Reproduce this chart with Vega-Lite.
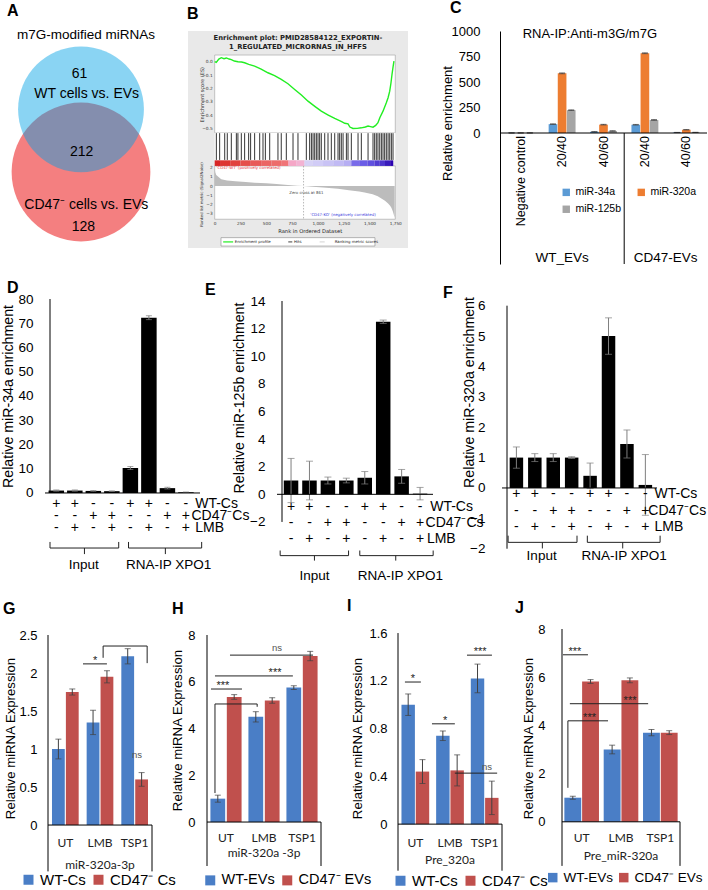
{
"$schema":"https://vega.github.io/schema/vega-lite/v6.json",
"background":"white",
"padding":{"left":0,"top":0,"right":0,"bottom":0},
"spacing":15,
"resolve":{"scale":{"color":"independent","xOffset":"independent"},"legend":{"color":"independent"}},
"config":{
 "font":"Liberation Sans",
 "view":{"stroke":null,"fill":"transparent"},
 "axis":{"grid":false,"labelColor":"#000","titleColor":"#000","domainColor":"#000","tickColor":"#000","titleFontWeight":"normal","labelFont":"Liberation Sans","titleFont":"Liberation Sans"},
 "title":{"anchor":"start","frame":"group","fontSize":16,"fontWeight":"bold","font":"Liberation Sans","baseline":"alphabetic","color":"#000"},
 "text":{"font":"Liberation Sans","color":"#000"}
},
"vconcat":[
{"hconcat":[
 {"width":165,"height":225,"title":{"text":"A","offset":9,"dx":7},
  "layer":[
   {"data":{"values":[{"set":"CD47⁻ cells vs. EVs"}]},"mark":{"type":"point","filled":true,"shape":"circle","size":19260,"color":"#F47F80","opacity":1},"encoding":{"x":{"datum":81,"type":"quantitative","scale":{"domain":[0,165],"nice":false,"zero":false},"axis":null},"y":{"datum":141,"type":"quantitative","scale":{"domain":[0,225],"reverse":true,"nice":false,"zero":false},"axis":null}}},
   {"data":{"values":[{"set":"WT cells vs. EVs"}]},"mark":{"type":"point","filled":true,"shape":"circle","size":15837,"color":"#00A1E5","opacity":0.46},"encoding":{"x":{"datum":81,"type":"quantitative","scale":{"domain":[0,165],"nice":false,"zero":false},"axis":null},"y":{"datum":78.3,"type":"quantitative","scale":{"domain":[0,225],"reverse":true,"nice":false,"zero":false},"axis":null}}},
   {"data":{"values":[{"t":"m7G-modified miRNAs"}]},"mark":{"type":"text","fontSize":13.5},"encoding":{"x":{"datum":86,"type":"quantitative","scale":{"domain":[0,165],"nice":false,"zero":false},"axis":null},"y":{"datum":4,"type":"quantitative","scale":{"domain":[0,225],"reverse":true,"nice":false,"zero":false},"axis":null},"text":{"field":"t"}}},
   {"data":{"values":[{"n":61}]},"mark":{"type":"text","fontSize":14},"encoding":{"x":{"datum":79.5,"type":"quantitative","scale":{"domain":[0,165],"nice":false,"zero":false},"axis":null},"y":{"datum":43.3,"type":"quantitative","scale":{"domain":[0,225],"reverse":true,"nice":false,"zero":false},"axis":null},"text":{"field":"n"}}},
   {"data":{"values":[{"t":"WT cells vs. EVs"}]},"mark":{"type":"text","fontSize":14},"encoding":{"x":{"datum":86.7,"type":"quantitative","scale":{"domain":[0,165],"nice":false,"zero":false},"axis":null},"y":{"datum":63.3,"type":"quantitative","scale":{"domain":[0,225],"reverse":true,"nice":false,"zero":false},"axis":null},"text":{"field":"t"}}},
   {"data":{"values":[{"n":212}]},"mark":{"type":"text","fontSize":14},"encoding":{"x":{"datum":81.7,"type":"quantitative","scale":{"domain":[0,165],"nice":false,"zero":false},"axis":null},"y":{"datum":120.7,"type":"quantitative","scale":{"domain":[0,225],"reverse":true,"nice":false,"zero":false},"axis":null},"text":{"field":"n"}}},
   {"data":{"values":[{"t":"CD47⁻ cells vs. EVs"}]},"mark":{"type":"text","fontSize":14},"encoding":{"x":{"datum":86.3,"type":"quantitative","scale":{"domain":[0,165],"nice":false,"zero":false},"axis":null},"y":{"datum":174.3,"type":"quantitative","scale":{"domain":[0,225],"reverse":true,"nice":false,"zero":false},"axis":null},"text":{"field":"t"}}},
   {"data":{"values":[{"n":128}]},"mark":{"type":"text","fontSize":14},"encoding":{"x":{"datum":83.3,"type":"quantitative","scale":{"domain":[0,165],"nice":false,"zero":false},"axis":null},"y":{"datum":196,"type":"quantitative","scale":{"domain":[0,225],"reverse":true,"nice":false,"zero":false},"axis":null},"text":{"field":"n"}}}
  ]},
 {"width":23,"height":1,"data":{"values":[{}]},"mark":{"type":"point","opacity":0},"encoding":{}},
 {"width":220,"height":217,"view":{"fill":"#e9e9e9"},"title":{"text":"B","offset":9,"dx":-1},
  "resolve":{"scale":{"y":"independent"},"axis":{"x":"independent","y":"independent"}},
  "layer":[
   {"resolve":{"axis":{"x":"independent","y":"independent"}},
    "layer":[
    {"data":{"values":[{}]},"mark":{"type":"rect","fill":"white","stroke":"#a0a0a0","strokeWidth":0.6},"encoding":{
      "x":{"datum":0,"type":"quantitative","scale":{"domain":[-258.7,1873.1],"nice":false,"zero":false},"axis":{"orient":"bottom","offset":-28.7,"values":[0,250,500,750,1000,1250,1500,1750],"format":",d","domain":false,"ticks":false,"labelPadding":2,"labelFontSize":4.2,"labelFont":"DejaVu Sans","labelColor":"#333","labelFlush":false,"title":"Rank in Ordered Dataset","titleFont":"DejaVu Sans","titleFontSize":5.2,"titleColor":"#222","titleX":121.7,"titleY":11,"titleBaseline":"middle"}},
      "x2":{"datum":1750},
      "y":{"datum":0.05,"type":"quantitative","scale":{"domain":[-1.3976,0.2303],"nice":false,"zero":false},"axis":{"orient":"left","offset":-26.7,"values":[0,-0.1,-0.2,-0.3,-0.4,-0.5],"format":".1f","domain":false,"ticks":false,"labelPadding":2.5,"labelFontSize":4.3,"labelFont":"DejaVu Sans","labelColor":"#333","title":"Enrichment score (ES)","titleFont":"DejaVu Sans","titleFontSize":5,"titleColor":"#333","titleX":-13.4,"titleY":63.3,"titleBaseline":"middle"}},
      "y2":{"datum":-0.533}}},
    {"data":{"values":[{}]},"mark":{"type":"rect","fill":"white"},"encoding":{"x":{"datum":0,"type":"quantitative","scale":{"domain":[-258.7,1873.1],"nice":false,"zero":false},"axis":null},"x2":{"datum":1750},"y":{"datum":-0.533,"type":"quantitative","scale":{"domain":[-1.3976,0.2303],"nice":false,"zero":false},"axis":null},"y2":{"datum":-0.74}}},
    {"data":{"values":[{}]},"mark":{"type":"rect","fill":"white","stroke":"#a0a0a0","strokeWidth":0.6},"encoding":{"x":{"datum":0,"type":"quantitative","scale":{"domain":[-258.7,1873.1],"nice":false,"zero":false},"axis":null},"x2":{"datum":1750},"y":{"datum":-0.782,"type":"quantitative","scale":{"domain":[-1.3976,0.2303],"nice":false,"zero":false},"axis":null},"y2":{"datum":-1.182}}},
    {"data":{"values":[{"start":0,"end":60,"score":1.0},{"start":60,"end":150,"score":0.95},{"start":150,"end":250,"score":0.9},{"start":250,"end":350,"score":0.85},{"start":350,"end":450,"score":0.8},{"start":450,"end":550,"score":0.75},{"start":550,"end":650,"score":0.72},{"start":650,"end":715,"score":0.68},{"start":715,"end":790,"score":0.45},{"start":790,"end":870,"score":0.4},{"start":870,"end":950,"score":-0.1},{"start":950,"end":1050,"score":-0.12},{"start":1050,"end":1150,"score":-0.15},{"start":1150,"end":1250,"score":-0.18},{"start":1250,"end":1324,"score":-0.22},{"start":1324,"end":1400,"score":-0.45},{"start":1400,"end":1480,"score":-0.5},{"start":1480,"end":1550,"score":-0.58},{"start":1550,"end":1600,"score":-0.7},{"start":1600,"end":1650,"score":-0.75},{"start":1650,"end":1700,"score":-0.9},{"start":1700,"end":1730,"score":-1.0}]},
     "mark":{"type":"rect"},"encoding":{"x":{"field":"start","type":"quantitative","scale":{"domain":[-258.7,1873.1],"nice":false,"zero":false},"axis":null},"x2":{"field":"end"},"y":{"datum":-0.74,"type":"quantitative","scale":{"domain":[-1.3976,0.2303],"nice":false,"zero":false},"axis":null},"y2":{"datum":-0.782},"color":{"field":"score","type":"quantitative","scale":{"domain":[-1,-0.5,-0.1,0.4,0.7,1],"range":["#2a00b0","#6a5ce6","#d6d2f6","#f3b3d3","#ee7070","#d82424"]},"legend":null}}},
    {"data":{"values":[{"rank":16},{"rank":48},{"rank":97},{"rank":122},{"rank":161},{"rank":210},{"rank":225},{"rank":258},{"rank":290},{"rank":329},{"rank":348},{"rank":387},{"rank":436},{"rank":468},{"rank":491},{"rank":533},{"rank":613},{"rank":645},{"rank":694},{"rank":759},{"rank":807},{"rank":888},{"rank":920},{"rank":937},{"rank":953},{"rank":969},{"rank":985},{"rank":1001},{"rank":1017},{"rank":1033},{"rank":1066},{"rank":1098},{"rank":1130},{"rank":1163},{"rank":1195},{"rank":1211},{"rank":1227},{"rank":1244},{"rank":1276},{"rank":1292},{"rank":1324},{"rank":1389},{"rank":1421},{"rank":1486},{"rank":1534},{"rank":1550},{"rank":1566},{"rank":1582},{"rank":1599},{"rank":1615},{"rank":1631},{"rank":1647},{"rank":1663},{"rank":1680},{"rank":1696},{"rank":1712},{"rank":1728}]},
     "mark":{"type":"rule","color":"#111","strokeWidth":1,"opacity":0.85},"encoding":{"x":{"field":"rank","type":"quantitative","scale":{"domain":[-258.7,1873.1],"nice":false,"zero":false},"axis":null},"y":{"datum":-0.536,"type":"quantitative","scale":{"domain":[-1.3976,0.2303],"nice":false,"zero":false},"axis":null},"y2":{"datum":-0.737}}},
    {"data":{"values":[{"rank":0,"es":0},{"rank":15,"es":-0.005},{"rank":40,"es":0.02},{"rank":64,"es":0.03},{"rank":90,"es":0.022},{"rank":113,"es":0.028},{"rank":140,"es":0.02},{"rank":161,"es":0.015},{"rank":190,"es":0.005},{"rank":226,"es":0.0},{"rank":260,"es":-0.002},{"rank":290,"es":-0.008},{"rank":330,"es":-0.02},{"rank":387,"es":-0.033},{"rank":450,"es":-0.055},{"rank":516,"es":-0.083},{"rank":580,"es":-0.105},{"rank":645,"es":-0.133},{"rank":710,"es":-0.165},{"rank":775,"es":-0.208},{"rank":840,"es":-0.25},{"rank":904,"es":-0.296},{"rank":970,"es":-0.335},{"rank":1033,"es":-0.371},{"rank":1100,"es":-0.4},{"rank":1163,"es":-0.426},{"rank":1230,"es":-0.45},{"rank":1260,"es":-0.462},{"rank":1292,"es":-0.466},{"rank":1310,"es":-0.49},{"rank":1340,"es":-0.501},{"rank":1380,"es":-0.5},{"rank":1421,"es":-0.496},{"rank":1460,"es":-0.49},{"rank":1486,"es":-0.483},{"rank":1510,"es":-0.487},{"rank":1534,"es":-0.491},{"rank":1560,"es":-0.478},{"rank":1582,"es":-0.458},{"rank":1600,"es":-0.42},{"rank":1631,"es":-0.371},{"rank":1663,"es":-0.308},{"rank":1680,"es":-0.27},{"rank":1696,"es":-0.221},{"rank":1708,"es":-0.16},{"rank":1718,"es":-0.096},{"rank":1728,"es":-0.04},{"rank":1737,"es":0.004}]},
     "mark":{"type":"line","color":"#22ee22","strokeWidth":1.4},"encoding":{"x":{"field":"rank","type":"quantitative","scale":{"domain":[-258.7,1873.1],"nice":false,"zero":false},"axis":null},"y":{"field":"es","type":"quantitative","scale":{"domain":[-1.3976,0.2303],"nice":false,"zero":false},"axis":null}}},
    {"data":{"values":[{"rank":861}]},"mark":{"type":"rule","color":"#888","strokeDash":[1.5,1.5],"strokeWidth":0.6},"encoding":{"x":{"field":"rank","type":"quantitative","scale":{"domain":[-258.7,1873.1],"nice":false,"zero":false},"axis":null},"y":{"datum":-0.782,"type":"quantitative","scale":{"domain":[-1.3976,0.2303],"nice":false,"zero":false},"axis":null},"y2":{"datum":-1.182}}},
    {"data":{"values":[{"t":"Enrichment plot: PMID28584122_EXPORTIN-"}]},"mark":{"type":"text","font":"DejaVu Sans","fontSize":6.8,"fontWeight":"bold","color":"#222"},"encoding":{"x":{"datum":807,"type":"quantitative","scale":{"domain":[-258.7,1873.1],"nice":false,"zero":false},"axis":null},"y":{"datum":0.18,"type":"quantitative","scale":{"domain":[-1.3976,0.2303],"nice":false,"zero":false},"axis":null},"text":{"field":"t"}}},
    {"data":{"values":[{"t":"1_REGULATED_MICRORNAS_IN_HFFS"}]},"mark":{"type":"text","font":"DejaVu Sans","fontSize":6.8,"fontWeight":"bold","color":"#222"},"encoding":{"x":{"datum":807,"type":"quantitative","scale":{"domain":[-258.7,1873.1],"nice":false,"zero":false},"axis":null},"y":{"datum":0.11,"type":"quantitative","scale":{"domain":[-1.3976,0.2303],"nice":false,"zero":false},"axis":null},"text":{"field":"t"}}},
    {"data":{"values":[{"t":"'CD47-WT' (positively correlated)"}]},"mark":{"type":"text","font":"DejaVu Sans","fontSize":3.9,"align":"left","color":"#e8303a"},"encoding":{"x":{"datum":16,"type":"quantitative","scale":{"domain":[-258.7,1873.1],"nice":false,"zero":false},"axis":null},"y":{"datum":-0.8,"type":"quantitative","scale":{"domain":[-1.3976,0.2303],"nice":false,"zero":false},"axis":null},"text":{"field":"t"}}},
    {"data":{"values":[{"t":"Zero cross at 861"}]},"mark":{"type":"text","font":"DejaVu Sans","fontSize":3.9,"color":"#444"},"encoding":{"x":{"datum":888,"type":"quantitative","scale":{"domain":[-258.7,1873.1],"nice":false,"zero":false},"axis":null},"y":{"datum":-0.987,"type":"quantitative","scale":{"domain":[-1.3976,0.2303],"nice":false,"zero":false},"axis":null},"text":{"field":"t"}}},
    {"data":{"values":[{"t":"'CD47-KO' (negatively correlated)"}]},"mark":{"type":"text","font":"DejaVu Sans","fontSize":3.9,"color":"#3a3adc"},"encoding":{"x":{"datum":1243,"type":"quantitative","scale":{"domain":[-258.7,1873.1],"nice":false,"zero":false},"axis":null},"y":{"datum":-1.15,"type":"quantitative","scale":{"domain":[-1.3976,0.2303],"nice":false,"zero":false},"axis":null},"text":{"field":"t"}}},
    {"data":{"values":[{}]},"mark":{"type":"rect","fill":"white","stroke":"#888","strokeWidth":0.6},"encoding":{"x":{"datum":61,"type":"quantitative","scale":{"domain":[-258.7,1873.1],"nice":false,"zero":false},"axis":null},"x2":{"datum":1553},"y":{"datum":-1.32,"type":"quantitative","scale":{"domain":[-1.3976,0.2303],"nice":false,"zero":false},"axis":null},"y2":{"datum":-1.383}}},
    {"data":{"values":[{}]},"mark":{"type":"rule","color":"#22ee22","strokeWidth":1.2},"encoding":{"x":{"datum":82,"type":"quantitative","scale":{"domain":[-258.7,1873.1],"nice":false,"zero":false},"axis":null},"x2":{"datum":179},"y":{"datum":-1.352,"type":"quantitative","scale":{"domain":[-1.3976,0.2303],"nice":false,"zero":false},"axis":null}}},
    {"data":{"values":[{"t":"Enrichment profile"}]},"mark":{"type":"text","font":"DejaVu Sans","fontSize":3.9,"align":"left","color":"#222"},"encoding":{"x":{"datum":194,"type":"quantitative","scale":{"domain":[-258.7,1873.1],"nice":false,"zero":false},"axis":null},"y":{"datum":-1.352,"type":"quantitative","scale":{"domain":[-1.3976,0.2303],"nice":false,"zero":false},"axis":null},"text":{"field":"t"}}},
    {"data":{"values":[{}]},"mark":{"type":"rule","color":"#111","strokeWidth":0.8},"encoding":{"x":{"datum":713,"type":"quantitative","scale":{"domain":[-258.7,1873.1],"nice":false,"zero":false},"axis":null},"x2":{"datum":752},"y":{"datum":-1.352,"type":"quantitative","scale":{"domain":[-1.3976,0.2303],"nice":false,"zero":false},"axis":null}}},
    {"data":{"values":[{"t":"Hits"}]},"mark":{"type":"text","font":"DejaVu Sans","fontSize":3.9,"align":"left","color":"#222"},"encoding":{"x":{"datum":768,"type":"quantitative","scale":{"domain":[-258.7,1873.1],"nice":false,"zero":false},"axis":null},"y":{"datum":-1.352,"type":"quantitative","scale":{"domain":[-1.3976,0.2303],"nice":false,"zero":false},"axis":null},"text":{"field":"t"}}},
    {"data":{"values":[{}]},"mark":{"type":"rule","color":"#c8c8c8","strokeWidth":0.8},"encoding":{"x":{"datum":1017,"type":"quantitative","scale":{"domain":[-258.7,1873.1],"nice":false,"zero":false},"axis":null},"x2":{"datum":1066},"y":{"datum":-1.352,"type":"quantitative","scale":{"domain":[-1.3976,0.2303],"nice":false,"zero":false},"axis":null}}},
    {"data":{"values":[{"t":"Ranking metric scores"}]},"mark":{"type":"text","font":"DejaVu Sans","fontSize":3.9,"align":"left","color":"#222"},"encoding":{"x":{"datum":1163,"type":"quantitative","scale":{"domain":[-258.7,1873.1],"nice":false,"zero":false},"axis":null},"y":{"datum":-1.352,"type":"quantitative","scale":{"domain":[-1.3976,0.2303],"nice":false,"zero":false},"axis":null},"text":{"field":"t"}}}
   ]},
   {"data":{"values":[{"rank":0,"metric":1.9},{"rank":5,"metric":1.5},{"rank":15,"metric":1.2},{"rank":40,"metric":0.95},{"rank":64,"metric":0.75},{"rank":120,"metric":0.62},{"rank":200,"metric":0.52},{"rank":300,"metric":0.45},{"rank":387,"metric":0.37},{"rank":500,"metric":0.3},{"rank":600,"metric":0.22},{"rank":710,"metric":0.12},{"rank":800,"metric":0.05},{"rank":861,"metric":0},{"rank":950,"metric":-0.06},{"rank":1050,"metric":-0.15},{"rank":1195,"metric":-0.3},{"rank":1300,"metric":-0.45},{"rank":1400,"metric":-0.6},{"rank":1453,"metric":-0.7},{"rank":1530,"metric":-0.9},{"rank":1580,"metric":-1.1},{"rank":1615,"metric":-1.35},{"rank":1650,"metric":-1.6},{"rank":1680,"metric":-1.9},{"rank":1700,"metric":-2.15},{"rank":1712,"metric":-2.35},{"rank":1725,"metric":-2.7},{"rank":1735,"metric":-3.1},{"rank":1744,"metric":-3.45}]},
    "mark":{"type":"area","color":"#bcbcbc"},"encoding":{"x":{"field":"rank","type":"quantitative","scale":{"domain":[-258.7,1873.1],"nice":false,"zero":false},"axis":null},"y":{"field":"metric","type":"quantitative","scale":{"domain":[-6.73,16.86],"nice":false,"zero":false},"axis":{"orient":"left","offset":-26.7,"values":[2,1,0,-1,-2,-3],"domain":false,"ticks":false,"labelPadding":2.5,"labelFontSize":4.3,"labelFont":"DejaVu Sans","labelColor":"#333","title":"Ranked list metric (Signal2Noise)","titleFont":"DejaVu Sans","titleFontSize":3.9,"titleColor":"#333","titleX":-13.4,"titleY":163,"titleBaseline":"middle"}},"y2":{"datum":0}}}
  ]},
 {"width":92,"height":1,"data":{"values":[{}]},"mark":{"type":"point","opacity":0},"encoding":{}},
 {"width":207,"height":233,"title":{"text":"C","offset":9,"dx":-50},
  "resolve":{"scale":{"x":"independent"},"axis":{"y":"independent"}},
  "layer":[
   {"resolve":{"axis":{"y":"independent"}},
    "data":{"values":[
     {"cat":"NC","miRNA":"miR-34a","value":1,"err":0.5},{"cat":"NC","miRNA":"miR-320a","value":1,"err":0.5},{"cat":"NC","miRNA":"miR-125b","value":1,"err":0.5},
     {"cat":"WT2040","miRNA":"miR-34a","value":87,"err":3},{"cat":"WT2040","miRNA":"miR-320a","value":585,"err":4},{"cat":"WT2040","miRNA":"miR-125b","value":224,"err":3},
     {"cat":"WT4060","miRNA":"miR-34a","value":12,"err":2},{"cat":"WT4060","miRNA":"miR-320a","value":82,"err":3},{"cat":"WT4060","miRNA":"miR-125b","value":20,"err":2},
     {"cat":"CD2040","miRNA":"miR-34a","value":81,"err":3},{"cat":"CD2040","miRNA":"miR-320a","value":782,"err":4},{"cat":"CD2040","miRNA":"miR-125b","value":128,"err":4},
     {"cat":"CD4060","miRNA":"miR-34a","value":5,"err":1},{"cat":"CD4060","miRNA":"miR-320a","value":32,"err":2},{"cat":"CD4060","miRNA":"miR-125b","value":6,"err":1}]},
    "layer":[
     {"mark":{"type":"bar"},"encoding":{
       "x":{"field":"cat","type":"nominal","sort":["NC","WT2040","WT4060","CD2040","CD4060"],"scale":{"paddingInner":0.35,"paddingOuter":0.175},"axis":null},
       "xOffset":{"field":"miRNA","type":"nominal","sort":["miR-34a","miR-320a","miR-125b"],"scale":{"paddingInner":0.05}},
       "y":{"field":"value","type":"quantitative","scale":{"domain":[-1284,1000],"nice":false,"zero":false},"axis":{"values":[0,250,500,750,1000],"format":"d","domain":true,"ticks":false,"labelPadding":20,"labelFontSize":13,"title":"Relative enrichment","titleFontSize":13,"titleX":-53,"titleY":92,"titleBaseline":"middle"}},
       "color":{"field":"miRNA","type":"nominal","sort":["miR-34a","miR-320a","miR-125b"],"scale":{"domain":["miR-34a","miR-320a","miR-125b"],"range":["#5B9BD5","#ED7D31","#A5A5A5"]},"legend":{"orient":"none","legendX":61,"legendY":156,"columns":2,"direction":"horizontal","title":null,"symbolType":"square","symbolSize":55,"symbolStrokeWidth":0,"labelFontSize":10.5,"columnPadding":14,"rowPadding":6,"labelOffset":4}}}},
     {"mark":{"type":"errorbar","color":"#404040","ticks":{"size":6}},"encoding":{
       "x":{"field":"cat","type":"nominal","sort":["NC","WT2040","WT4060","CD2040","CD4060"],"scale":{"paddingInner":0.35,"paddingOuter":0.175},"axis":null},
       "xOffset":{"field":"miRNA","type":"nominal","sort":["miR-34a","miR-320a","miR-125b"],"scale":{"paddingInner":0.05}},
       "y":{"field":"value","type":"quantitative","scale":{"domain":[-1284,1000],"nice":false,"zero":false},"axis":null},"yError":{"field":"err"}}}
    ]},
   {"data":{"values":[{"cat":"NC","label":"Negative control"},{"cat":"WT2040","label":"20/40"},{"cat":"WT4060","label":"40/60"},{"cat":"CD2040","label":"20/40"},{"cat":"CD4060","label":"40/60"}]},
    "mark":{"type":"text","angle":270,"align":"right","baseline":"middle","fontSize":12.5},"encoding":{"x":{"field":"cat","type":"nominal","sort":["NC","WT2040","WT4060","CD2040","CD4060"],"scale":{"paddingInner":0.35,"paddingOuter":0.175},"axis":null},"y":{"datum":-29,"type":"quantitative","scale":{"domain":[-1284,1000],"nice":false,"zero":false},"axis":null},"text":{"field":"label"}}},
   {"data":{"values":[{"g":"WT_EVs"}]},"mark":{"type":"text","fontSize":13.5},"encoding":{"x":{"datum":2,"type":"quantitative","scale":{"domain":[0.5,5.5],"nice":false,"zero":false},"axis":null},"y":{"datum":-1225,"type":"quantitative","scale":{"domain":[-1284,1000],"nice":false,"zero":false},"axis":null},"text":{"field":"g"}}},
   {"data":{"values":[{"g":"CD47-EVs"}]},"mark":{"type":"text","fontSize":13.5},"encoding":{"x":{"datum":4.5,"type":"quantitative","scale":{"domain":[0.5,5.5],"nice":false,"zero":false},"axis":null},"y":{"datum":-1225,"type":"quantitative","scale":{"domain":[-1284,1000],"nice":false,"zero":false},"axis":null},"text":{"field":"g"}}},
   {"data":{"values":[{}]},"mark":{"type":"rule","color":"#000"},"encoding":{"x":{"datum":3.5,"type":"quantitative","scale":{"domain":[0.5,5.5],"nice":false,"zero":false},"axis":null},"y":{"datum":0,"type":"quantitative","scale":{"domain":[-1284,1000],"nice":false,"zero":false},"axis":null},"y2":{"datum":-1284}}},
   {"data":{"values":[{}]},"mark":{"type":"rule","color":"#000"},"encoding":{"y":{"datum":0,"type":"quantitative","scale":{"domain":[-1284,1000],"nice":false,"zero":false},"axis":null}}},
   {"data":{"values":[{"t":"RNA-IP:Anti-m3G/m7G"}]},"mark":{"type":"text","fontSize":13},"encoding":{"x":{"datum":2.67,"type":"quantitative","scale":{"domain":[0.5,5.5],"nice":false,"zero":false},"axis":null},"y":{"datum":970,"type":"quantitative","scale":{"domain":[-1284,1000],"nice":false,"zero":false},"axis":null},"text":{"field":"t"}}}
  ]}
],"spacing":0,"bounds":"flush","resolve":{"scale":{"color":"independent","xOffset":"independent"},"legend":{"color":"independent"}}},
{"hconcat":[
 {"width":45,"height":1,"data":{"values":[{}]},"mark":{"type":"point","opacity":0},"encoding":{}},
 {"width":155,"height":274,"title":{"text":"D","offset":-4,"dx":-38},
  "resolve":{"axis":{"y":"independent"}},
  "data":{"values":[
   {"bar":1,"wt":"+","cd":"-","lmb":"-","value":1.0,"err":0.25},
   {"bar":2,"wt":"+","cd":"-","lmb":"+","value":1.0,"err":0.25},
   {"bar":3,"wt":"-","cd":"+","lmb":"-","value":0.85,"err":0.15},
   {"bar":4,"wt":"-","cd":"+","lmb":"+","value":0.75,"err":0.1},
   {"bar":5,"wt":"+","cd":"-","lmb":"-","value":10.3,"err":0.6},
   {"bar":6,"wt":"+","cd":"-","lmb":"+","value":72.3,"err":0.8},
   {"bar":7,"wt":"-","cd":"+","lmb":"-","value":2.0,"err":0.35},
   {"bar":8,"wt":"-","cd":"+","lmb":"+","value":0.3,"err":0.1}]},
  "layer":[
   {"mark":{"type":"bar","color":"#000","width":15.5},"encoding":{"x":{"field":"bar","type":"quantitative","scale":{"domain":[0.66,8.49],"nice":false,"zero":false},"axis":null},"y":{"field":"value","type":"quantitative","scale":{"domain":[-33,80],"nice":false,"zero":false},"axis":{"values":[0,10,20,30,40,50,60,70,80],"domain":false,"ticks":false,"labelPadding":12,"labelFontSize":13.5,"title":"Relative miR-34a enrichment","titleFontSize":14.2,"titleX":-37,"titleY":97,"titleBaseline":"middle"}}}},
   {"mark":{"type":"errorbar","color":"#7f7f7f","ticks":{"size":6}},"encoding":{"x":{"field":"bar","type":"quantitative","scale":{"domain":[0.66,8.49],"nice":false,"zero":false},"axis":null},"y":{"field":"value","type":"quantitative","scale":{"domain":[-33,80],"nice":false,"zero":false},"axis":null},"yError":{"field":"err"}}},
   {"mark":{"type":"text","fontSize":14,"color":"#000"},"encoding":{"x":{"field":"bar","type":"quantitative","scale":{"domain":[0.66,8.49],"nice":false,"zero":false},"axis":null},"y":{"datum":-4.5,"type":"quantitative","scale":{"domain":[-33,80],"nice":false,"zero":false},"axis":null},"text":{"field":"wt"}}},
   {"mark":{"type":"text","fontSize":14,"color":"#000"},"encoding":{"x":{"field":"bar","type":"quantitative","scale":{"domain":[0.66,8.49],"nice":false,"zero":false},"axis":null},"y":{"datum":-9.6,"type":"quantitative","scale":{"domain":[-33,80],"nice":false,"zero":false},"axis":null},"text":{"field":"cd"}}},
   {"mark":{"type":"text","fontSize":14,"color":"#000"},"encoding":{"x":{"field":"bar","type":"quantitative","scale":{"domain":[0.66,8.49],"nice":false,"zero":false},"axis":null},"y":{"datum":-14.6,"type":"quantitative","scale":{"domain":[-33,80],"nice":false,"zero":false},"axis":null},"text":{"field":"lmb"}}},
   {"data":{"values":[{"t":"WT-Cs"}]},"mark":{"type":"text","fontSize":14,"align":"left"},"encoding":{"x":{"datum":8.5,"type":"quantitative","scale":{"domain":[0.66,8.49],"nice":false,"zero":false},"axis":null},"y":{"datum":-4.5,"type":"quantitative","scale":{"domain":[-33,80],"nice":false,"zero":false},"axis":null},"text":{"field":"t"}}},
   {"data":{"values":[{"t":"CD47⁻Cs"}]},"mark":{"type":"text","fontSize":14,"align":"left"},"encoding":{"x":{"datum":8.3,"type":"quantitative","scale":{"domain":[0.66,8.49],"nice":false,"zero":false},"axis":null},"y":{"datum":-9.6,"type":"quantitative","scale":{"domain":[-33,80],"nice":false,"zero":false},"axis":null},"text":{"field":"t"}}},
   {"data":{"values":[{"t":"LMB"}]},"mark":{"type":"text","fontSize":14,"align":"left"},"encoding":{"x":{"datum":8.5,"type":"quantitative","scale":{"domain":[0.66,8.49],"nice":false,"zero":false},"axis":null},"y":{"datum":-14.6,"type":"quantitative","scale":{"domain":[-33,80],"nice":false,"zero":false},"axis":null},"text":{"field":"t"}}},
   {"data":{"values":[{}]},"mark":{"type":"rule","color":"#000"},"encoding":{"y":{"datum":0,"type":"quantitative","scale":{"domain":[-33,80],"nice":false,"zero":false},"axis":null}}},
   {"data":{"values":[{}]},"mark":{"type":"rule","color":"#000"},"encoding":{"x":{"datum":0.66,"type":"quantitative","scale":{"domain":[0.66,8.49],"nice":false,"zero":false},"axis":null},"y":{"datum":0,"type":"quantitative","scale":{"domain":[-33,80],"nice":false,"zero":false},"axis":null},"y2":{"datum":80}}},
   {"data":{"values":[{}]},"mark":{"type":"rule","color":"#222"},"encoding":{"x":{"datum":0.66,"type":"quantitative","scale":{"domain":[0.66,8.49],"nice":false,"zero":false},"axis":null},"x2":{"datum":4.37},"y":{"datum":-22.7,"type":"quantitative","scale":{"domain":[-33,80],"nice":false,"zero":false},"axis":null}}},
   {"data":{"values":[{}]},"mark":{"type":"rule","color":"#222"},"encoding":{"x":{"datum":0.66,"type":"quantitative","scale":{"domain":[0.66,8.49],"nice":false,"zero":false},"axis":null},"y":{"datum":-22.7,"type":"quantitative","scale":{"domain":[-33,80],"nice":false,"zero":false},"axis":null},"y2":{"datum":-20.2}}},
   {"data":{"values":[{}]},"mark":{"type":"rule","color":"#222"},"encoding":{"x":{"datum":4.37,"type":"quantitative","scale":{"domain":[0.66,8.49],"nice":false,"zero":false},"axis":null},"y":{"datum":-22.7,"type":"quantitative","scale":{"domain":[-33,80],"nice":false,"zero":false},"axis":null},"y2":{"datum":-20.2}}},
   {"data":{"values":[{}]},"mark":{"type":"rule","color":"#222"},"encoding":{"x":{"datum":2.52,"type":"quantitative","scale":{"domain":[0.66,8.49],"nice":false,"zero":false},"axis":null},"y":{"datum":-22.7,"type":"quantitative","scale":{"domain":[-33,80],"nice":false,"zero":false},"axis":null},"y2":{"datum":-25.2}}},
   {"data":{"values":[{}]},"mark":{"type":"rule","color":"#222"},"encoding":{"x":{"datum":4.9,"type":"quantitative","scale":{"domain":[0.66,8.49],"nice":false,"zero":false},"axis":null},"x2":{"datum":8.85},"y":{"datum":-22.7,"type":"quantitative","scale":{"domain":[-33,80],"nice":false,"zero":false},"axis":null}}},
   {"data":{"values":[{}]},"mark":{"type":"rule","color":"#222"},"encoding":{"x":{"datum":4.9,"type":"quantitative","scale":{"domain":[0.66,8.49],"nice":false,"zero":false},"axis":null},"y":{"datum":-22.7,"type":"quantitative","scale":{"domain":[-33,80],"nice":false,"zero":false},"axis":null},"y2":{"datum":-20.2}}},
   {"data":{"values":[{}]},"mark":{"type":"rule","color":"#222"},"encoding":{"x":{"datum":8.85,"type":"quantitative","scale":{"domain":[0.66,8.49],"nice":false,"zero":false},"axis":null},"y":{"datum":-22.7,"type":"quantitative","scale":{"domain":[-33,80],"nice":false,"zero":false},"axis":null},"y2":{"datum":-20.2}}},
   {"data":{"values":[{}]},"mark":{"type":"rule","color":"#222"},"encoding":{"x":{"datum":6.89,"type":"quantitative","scale":{"domain":[0.66,8.49],"nice":false,"zero":false},"axis":null},"y":{"datum":-22.7,"type":"quantitative","scale":{"domain":[-33,80],"nice":false,"zero":false},"axis":null},"y2":{"datum":-25.2}}},
   {"data":{"values":[{"t":"Input"}]},"mark":{"type":"text","fontSize":13.5},"encoding":{"x":{"datum":2.48,"type":"quantitative","scale":{"domain":[0.66,8.49],"nice":false,"zero":false},"axis":null},"y":{"datum":-29.7,"type":"quantitative","scale":{"domain":[-33,80],"nice":false,"zero":false},"axis":null},"text":{"field":"t"}}},
   {"data":{"values":[{"t":"RNA-IP XPO1"}]},"mark":{"type":"text","fontSize":13.5},"encoding":{"x":{"datum":7.06,"type":"quantitative","scale":{"domain":[0.66,8.49],"nice":false,"zero":false},"axis":null},"y":{"datum":-29.7,"type":"quantitative","scale":{"domain":[-33,80],"nice":false,"zero":false},"axis":null},"text":{"field":"t"}}}
  ]},
 {"width":77,"height":1,"data":{"values":[{}]},"mark":{"type":"point","opacity":0},"encoding":{}},
 {"width":156,"height":283.7,"title":{"text":"E","offset":-4,"dx":-72},
  "resolve":{"axis":{"y":"independent"}},
  "data":{"values":[
   {"bar":1,"wt":"+","cd":"-","lmb":"-","value":1.0,"err":1.6},
   {"bar":2,"wt":"+","cd":"-","lmb":"+","value":1.0,"err":1.4},
   {"bar":3,"wt":"-","cd":"+","lmb":"-","value":1.0,"err":0.25},
   {"bar":4,"wt":"-","cd":"+","lmb":"+","value":1.0,"err":0.17},
   {"bar":5,"wt":"+","cd":"-","lmb":"-","value":1.2,"err":0.45},
   {"bar":6,"wt":"+","cd":"-","lmb":"+","value":12.5,"err":0.12},
   {"bar":7,"wt":"-","cd":"+","lmb":"-","value":1.3,"err":0.5},
   {"bar":8,"wt":"-","cd":"+","lmb":"+","value":0.05,"err":0.45}]},
  "layer":[
   {"mark":{"type":"bar","color":"#000","width":14.5},"encoding":{"x":{"field":"bar","type":"quantitative","scale":{"domain":[0.51,8.43],"nice":false,"zero":false},"axis":null},"y":{"field":"value","type":"quantitative","scale":{"domain":[-6.4,14.145],"nice":false,"zero":false},"axis":{"values":[-2,0,2,4,6,8,10,12,14],"domain":false,"ticks":false,"labelPadding":12,"labelFontSize":13.5,"title":"Relative miR-125b enrichment","titleFontSize":14.2,"titleX":-38,"titleY":98.5,"titleBaseline":"middle"}}}},
   {"mark":{"type":"errorbar","color":"#7f7f7f","ticks":{"size":7}},"encoding":{"x":{"field":"bar","type":"quantitative","scale":{"domain":[0.51,8.43],"nice":false,"zero":false},"axis":null},"y":{"field":"value","type":"quantitative","scale":{"domain":[-6.4,14.145],"nice":false,"zero":false},"axis":null},"yError":{"field":"err"}}},
   {"mark":{"type":"text","fontSize":14,"color":"#000"},"encoding":{"x":{"field":"bar","type":"quantitative","scale":{"domain":[0.51,8.43],"nice":false,"zero":false},"axis":null},"y":{"datum":-0.9,"type":"quantitative","scale":{"domain":[-6.4,14.145],"nice":false,"zero":false},"axis":null},"text":{"field":"wt"}}},
   {"mark":{"type":"text","fontSize":14,"color":"#000"},"encoding":{"x":{"field":"bar","type":"quantitative","scale":{"domain":[0.51,8.43],"nice":false,"zero":false},"axis":null},"y":{"datum":-2.1,"type":"quantitative","scale":{"domain":[-6.4,14.145],"nice":false,"zero":false},"axis":null},"text":{"field":"cd"}}},
   {"mark":{"type":"text","fontSize":14,"color":"#000"},"encoding":{"x":{"field":"bar","type":"quantitative","scale":{"domain":[0.51,8.43],"nice":false,"zero":false},"axis":null},"y":{"datum":-3.25,"type":"quantitative","scale":{"domain":[-6.4,14.145],"nice":false,"zero":false},"axis":null},"text":{"field":"lmb"}}},
   {"data":{"values":[{"t":"WT-Cs"}]},"mark":{"type":"text","fontSize":14,"align":"left"},"encoding":{"x":{"datum":8.55,"type":"quantitative","scale":{"domain":[0.51,8.43],"nice":false,"zero":false},"axis":null},"y":{"datum":-0.9,"type":"quantitative","scale":{"domain":[-6.4,14.145],"nice":false,"zero":false},"axis":null},"text":{"field":"t"}}},
   {"data":{"values":[{"t":"CD47⁻Cs"}]},"mark":{"type":"text","fontSize":14,"align":"left"},"encoding":{"x":{"datum":8.3,"type":"quantitative","scale":{"domain":[0.51,8.43],"nice":false,"zero":false},"axis":null},"y":{"datum":-2.1,"type":"quantitative","scale":{"domain":[-6.4,14.145],"nice":false,"zero":false},"axis":null},"text":{"field":"t"}}},
   {"data":{"values":[{"t":"LMB"}]},"mark":{"type":"text","fontSize":14,"align":"left"},"encoding":{"x":{"datum":8.37,"type":"quantitative","scale":{"domain":[0.51,8.43],"nice":false,"zero":false},"axis":null},"y":{"datum":-3.25,"type":"quantitative","scale":{"domain":[-6.4,14.145],"nice":false,"zero":false},"axis":null},"text":{"field":"t"}}},
   {"data":{"values":[{}]},"mark":{"type":"rule","color":"#000"},"encoding":{"y":{"datum":0,"type":"quantitative","scale":{"domain":[-6.4,14.145],"nice":false,"zero":false},"axis":null}}},
   {"data":{"values":[{}]},"mark":{"type":"rule","color":"#000"},"encoding":{"x":{"datum":0.51,"type":"quantitative","scale":{"domain":[0.51,8.43],"nice":false,"zero":false},"axis":null},"y":{"datum":-2,"type":"quantitative","scale":{"domain":[-6.4,14.145],"nice":false,"zero":false},"axis":null},"y2":{"datum":14}}},
   {"data":{"values":[{}]},"mark":{"type":"rule","color":"#222"},"encoding":{"x":{"datum":0.41,"type":"quantitative","scale":{"domain":[0.51,8.43],"nice":false,"zero":false},"axis":null},"x2":{"datum":4.12},"y":{"datum":-4.44,"type":"quantitative","scale":{"domain":[-6.4,14.145],"nice":false,"zero":false},"axis":null}}},
   {"data":{"values":[{}]},"mark":{"type":"rule","color":"#222"},"encoding":{"x":{"datum":0.41,"type":"quantitative","scale":{"domain":[0.51,8.43],"nice":false,"zero":false},"axis":null},"y":{"datum":-4.44,"type":"quantitative","scale":{"domain":[-6.4,14.145],"nice":false,"zero":false},"axis":null},"y2":{"datum":-4.07}}},
   {"data":{"values":[{}]},"mark":{"type":"rule","color":"#222"},"encoding":{"x":{"datum":4.12,"type":"quantitative","scale":{"domain":[0.51,8.43],"nice":false,"zero":false},"axis":null},"y":{"datum":-4.44,"type":"quantitative","scale":{"domain":[-6.4,14.145],"nice":false,"zero":false},"axis":null},"y2":{"datum":-4.07}}},
   {"data":{"values":[{}]},"mark":{"type":"rule","color":"#222"},"encoding":{"x":{"datum":2.27,"type":"quantitative","scale":{"domain":[0.51,8.43],"nice":false,"zero":false},"axis":null},"y":{"datum":-4.44,"type":"quantitative","scale":{"domain":[-6.4,14.145],"nice":false,"zero":false},"axis":null},"y2":{"datum":-4.8}}},
   {"data":{"values":[{}]},"mark":{"type":"rule","color":"#222"},"encoding":{"x":{"datum":4.73,"type":"quantitative","scale":{"domain":[0.51,8.43],"nice":false,"zero":false},"axis":null},"x2":{"datum":8.71},"y":{"datum":-4.44,"type":"quantitative","scale":{"domain":[-6.4,14.145],"nice":false,"zero":false},"axis":null}}},
   {"data":{"values":[{}]},"mark":{"type":"rule","color":"#222"},"encoding":{"x":{"datum":4.73,"type":"quantitative","scale":{"domain":[0.51,8.43],"nice":false,"zero":false},"axis":null},"y":{"datum":-4.44,"type":"quantitative","scale":{"domain":[-6.4,14.145],"nice":false,"zero":false},"axis":null},"y2":{"datum":-4.07}}},
   {"data":{"values":[{}]},"mark":{"type":"rule","color":"#222"},"encoding":{"x":{"datum":8.71,"type":"quantitative","scale":{"domain":[0.51,8.43],"nice":false,"zero":false},"axis":null},"y":{"datum":-4.44,"type":"quantitative","scale":{"domain":[-6.4,14.145],"nice":false,"zero":false},"axis":null},"y2":{"datum":-4.07}}},
   {"data":{"values":[{}]},"mark":{"type":"rule","color":"#222"},"encoding":{"x":{"datum":6.68,"type":"quantitative","scale":{"domain":[0.51,8.43],"nice":false,"zero":false},"axis":null},"y":{"datum":-4.44,"type":"quantitative","scale":{"domain":[-6.4,14.145],"nice":false,"zero":false},"axis":null},"y2":{"datum":-4.8}}},
   {"data":{"values":[{"t":"Input"}]},"mark":{"type":"text","fontSize":13.5},"encoding":{"x":{"datum":2.27,"type":"quantitative","scale":{"domain":[0.51,8.43],"nice":false,"zero":false},"axis":null},"y":{"datum":-5.9,"type":"quantitative","scale":{"domain":[-6.4,14.145],"nice":false,"zero":false},"axis":null},"text":{"field":"t"}}},
   {"data":{"values":[{"t":"RNA-IP XPO1"}]},"mark":{"type":"text","fontSize":13.5},"encoding":{"x":{"datum":6.93,"type":"quantitative","scale":{"domain":[0.51,8.43],"nice":false,"zero":false},"axis":null},"y":{"datum":-5.9,"type":"quantitative","scale":{"domain":[-6.4,14.145],"nice":false,"zero":false},"axis":null},"text":{"field":"t"}}}
  ]},
 {"width":69,"height":1,"data":{"values":[{}]},"mark":{"type":"point","opacity":0},"encoding":{}},
 {"width":155,"height":263.4,"title":{"text":"F","offset":-4,"dx":-59},
  "resolve":{"axis":{"y":"independent"}},
  "data":{"values":[
   {"bar":1,"wt":"+","cd":"-","lmb":"-","value":1.0,"err":0.35},
   {"bar":2,"wt":"+","cd":"-","lmb":"+","value":1.0,"err":0.13},
   {"bar":3,"wt":"-","cd":"+","lmb":"-","value":1.0,"err":0.13},
   {"bar":4,"wt":"-","cd":"+","lmb":"+","value":1.0,"err":0.03},
   {"bar":5,"wt":"+","cd":"-","lmb":"-","value":0.4,"err":0.42},
   {"bar":6,"wt":"+","cd":"-","lmb":"+","value":5.0,"err":0.6},
   {"bar":7,"wt":"-","cd":"+","lmb":"-","value":1.45,"err":0.46},
   {"bar":8,"wt":"-","cd":"+","lmb":"+","value":0.1,"err":1.0}]},
  "layer":[
   {"mark":{"type":"bar","color":"#000","width":13.5},"encoding":{"x":{"field":"bar","type":"quantitative","scale":{"domain":[0.49,8.36],"nice":false,"zero":false},"axis":null},"y":{"field":"value","type":"quantitative","scale":{"domain":[-2.45,6.22],"nice":false,"zero":false},"axis":{"values":[-2,-1,0,1,2,3,4,5,6],"domain":false,"ticks":false,"labelPadding":17,"labelFontSize":13.5,"title":"Relative miR-320a enrichment","titleFontSize":14.2,"titleX":-33,"titleY":93,"titleBaseline":"middle"}}}},
   {"mark":{"type":"errorbar","color":"#7f7f7f","ticks":{"size":7}},"encoding":{"x":{"field":"bar","type":"quantitative","scale":{"domain":[0.49,8.36],"nice":false,"zero":false},"axis":null},"y":{"field":"value","type":"quantitative","scale":{"domain":[-2.45,6.22],"nice":false,"zero":false},"axis":null},"yError":{"field":"err"}}},
   {"mark":{"type":"text","fontSize":14,"color":"#000"},"encoding":{"x":{"field":"bar","type":"quantitative","scale":{"domain":[0.49,8.36],"nice":false,"zero":false},"axis":null},"y":{"datum":-0.2,"type":"quantitative","scale":{"domain":[-2.45,6.22],"nice":false,"zero":false},"axis":null},"text":{"field":"wt"}}},
   {"mark":{"type":"text","fontSize":14,"color":"#000"},"encoding":{"x":{"field":"bar","type":"quantitative","scale":{"domain":[0.49,8.36],"nice":false,"zero":false},"axis":null},"y":{"datum":-0.75,"type":"quantitative","scale":{"domain":[-2.45,6.22],"nice":false,"zero":false},"axis":null},"text":{"field":"cd"}}},
   {"mark":{"type":"text","fontSize":14,"color":"#000"},"encoding":{"x":{"field":"bar","type":"quantitative","scale":{"domain":[0.49,8.36],"nice":false,"zero":false},"axis":null},"y":{"datum":-1.29,"type":"quantitative","scale":{"domain":[-2.45,6.22],"nice":false,"zero":false},"axis":null},"text":{"field":"lmb"}}},
   {"data":{"values":[{"t":"WT-Cs"}]},"mark":{"type":"text","fontSize":14,"align":"left"},"encoding":{"x":{"datum":8.5,"type":"quantitative","scale":{"domain":[0.49,8.36],"nice":false,"zero":false},"axis":null},"y":{"datum":-0.2,"type":"quantitative","scale":{"domain":[-2.45,6.22],"nice":false,"zero":false},"axis":null},"text":{"field":"t"}}},
   {"data":{"values":[{"t":"CD47⁻Cs"}]},"mark":{"type":"text","fontSize":14,"align":"left"},"encoding":{"x":{"datum":8.16,"type":"quantitative","scale":{"domain":[0.49,8.36],"nice":false,"zero":false},"axis":null},"y":{"datum":-0.75,"type":"quantitative","scale":{"domain":[-2.45,6.22],"nice":false,"zero":false},"axis":null},"text":{"field":"t"}}},
   {"data":{"values":[{"t":"LMB"}]},"mark":{"type":"text","fontSize":14,"align":"left"},"encoding":{"x":{"datum":8.5,"type":"quantitative","scale":{"domain":[0.49,8.36],"nice":false,"zero":false},"axis":null},"y":{"datum":-1.29,"type":"quantitative","scale":{"domain":[-2.45,6.22],"nice":false,"zero":false},"axis":null},"text":{"field":"t"}}},
   {"data":{"values":[{}]},"mark":{"type":"rule","color":"#000"},"encoding":{"y":{"datum":0,"type":"quantitative","scale":{"domain":[-2.45,6.22],"nice":false,"zero":false},"axis":null}}},
   {"data":{"values":[{}]},"mark":{"type":"rule","color":"#000"},"encoding":{"x":{"datum":0.49,"type":"quantitative","scale":{"domain":[0.49,8.36],"nice":false,"zero":false},"axis":null},"y":{"datum":-2,"type":"quantitative","scale":{"domain":[-2.45,6.22],"nice":false,"zero":false},"axis":null},"y2":{"datum":6}}},
   {"data":{"values":[{}]},"mark":{"type":"rule","color":"#222"},"encoding":{"x":{"datum":0.55,"type":"quantitative","scale":{"domain":[0.49,8.36],"nice":false,"zero":false},"axis":null},"x2":{"datum":4.29},"y":{"datum":-1.79,"type":"quantitative","scale":{"domain":[-2.45,6.22],"nice":false,"zero":false},"axis":null}}},
   {"data":{"values":[{}]},"mark":{"type":"rule","color":"#222"},"encoding":{"x":{"datum":0.55,"type":"quantitative","scale":{"domain":[0.49,8.36],"nice":false,"zero":false},"axis":null},"y":{"datum":-1.79,"type":"quantitative","scale":{"domain":[-2.45,6.22],"nice":false,"zero":false},"axis":null},"y2":{"datum":-1.57}}},
   {"data":{"values":[{}]},"mark":{"type":"rule","color":"#222"},"encoding":{"x":{"datum":4.29,"type":"quantitative","scale":{"domain":[0.49,8.36],"nice":false,"zero":false},"axis":null},"y":{"datum":-1.79,"type":"quantitative","scale":{"domain":[-2.45,6.22],"nice":false,"zero":false},"axis":null},"y2":{"datum":-1.57}}},
   {"data":{"values":[{}]},"mark":{"type":"rule","color":"#222"},"encoding":{"x":{"datum":2.41,"type":"quantitative","scale":{"domain":[0.49,8.36],"nice":false,"zero":false},"axis":null},"y":{"datum":-1.79,"type":"quantitative","scale":{"domain":[-2.45,6.22],"nice":false,"zero":false},"axis":null},"y2":{"datum":-1.99}}},
   {"data":{"values":[{}]},"mark":{"type":"rule","color":"#222"},"encoding":{"x":{"datum":4.85,"type":"quantitative","scale":{"domain":[0.49,8.36],"nice":false,"zero":false},"axis":null},"x2":{"datum":8.8},"y":{"datum":-1.79,"type":"quantitative","scale":{"domain":[-2.45,6.22],"nice":false,"zero":false},"axis":null}}},
   {"data":{"values":[{}]},"mark":{"type":"rule","color":"#222"},"encoding":{"x":{"datum":4.85,"type":"quantitative","scale":{"domain":[0.49,8.36],"nice":false,"zero":false},"axis":null},"y":{"datum":-1.79,"type":"quantitative","scale":{"domain":[-2.45,6.22],"nice":false,"zero":false},"axis":null},"y2":{"datum":-1.57}}},
   {"data":{"values":[{}]},"mark":{"type":"rule","color":"#222"},"encoding":{"x":{"datum":8.8,"type":"quantitative","scale":{"domain":[0.49,8.36],"nice":false,"zero":false},"axis":null},"y":{"datum":-1.79,"type":"quantitative","scale":{"domain":[-2.45,6.22],"nice":false,"zero":false},"axis":null},"y2":{"datum":-1.57}}},
   {"data":{"values":[{}]},"mark":{"type":"rule","color":"#222"},"encoding":{"x":{"datum":6.77,"type":"quantitative","scale":{"domain":[0.49,8.36],"nice":false,"zero":false},"axis":null},"y":{"datum":-1.79,"type":"quantitative","scale":{"domain":[-2.45,6.22],"nice":false,"zero":false},"axis":null},"y2":{"datum":-1.99}}},
   {"data":{"values":[{"t":"Input"}]},"mark":{"type":"text","fontSize":13.5},"encoding":{"x":{"datum":2.37,"type":"quantitative","scale":{"domain":[0.49,8.36],"nice":false,"zero":false},"axis":null},"y":{"datum":-2.23,"type":"quantitative","scale":{"domain":[-2.45,6.22],"nice":false,"zero":false},"axis":null},"text":{"field":"t"}}},
   {"data":{"values":[{"t":"RNA-IP XPO1"}]},"mark":{"type":"text","fontSize":13.5},"encoding":{"x":{"datum":6.85,"type":"quantitative","scale":{"domain":[0.49,8.36],"nice":false,"zero":false},"axis":null},"y":{"datum":-2.23,"type":"quantitative","scale":{"domain":[-2.45,6.22],"nice":false,"zero":false},"axis":null},"text":{"field":"t"}}}
  ]}
],"spacing":0,"bounds":"flush","resolve":{"scale":{"color":"independent","xOffset":"independent"},"legend":{"color":"independent"}}},
{"hconcat":[
 {"width":48,"height":1,"data":{"values":[{}]},"mark":{"type":"point","opacity":0},"encoding":{}},
 {"width":104,"height":242.4,"title":{"text":"G","offset":12,"dx":-45},
  "resolve":{"scale":{"x":"independent"},"axis":{"y":"independent"}},
  "layer":[
   {"resolve":{"axis":{"y":"independent"}},
    "data":{"values":[
     {"treat":"UT","cells":"WT-Cs","value":1.0,"err":0.13},{"treat":"UT","cells":"CD47⁻ Cs","value":1.75,"err":0.04},
     {"treat":"LMB","cells":"WT-Cs","value":1.35,"err":0.16},{"treat":"LMB","cells":"CD47⁻ Cs","value":1.95,"err":0.08},
     {"treat":"TSP1","cells":"WT-Cs","value":2.22,"err":0.1},{"treat":"TSP1","cells":"CD47⁻ Cs","value":0.6,"err":0.09}]},
    "layer":[
     {"mark":{"type":"bar"},"encoding":{"x":{"field":"treat","type":"nominal","sort":["UT","LMB","TSP1"],"scale":{"paddingInner":0.23,"paddingOuter":0.115},"axis":null},"xOffset":{"field":"cells","type":"nominal","sort":["WT-Cs","CD47⁻ Cs"],"scale":{"paddingInner":0.08}},
       "y":{"field":"value","type":"quantitative","scale":{"domain":[-0.61,2.579],"nice":false,"zero":false},"axis":{"values":[0,0.5,1,1.5,2,2.5],"format":"~g","domain":false,"ticks":false,"labelPadding":11,"labelFontSize":13,"title":"Relative miRNA Expression","titleFontSize":13.2,"titleX":-38,"titleY":109,"titleBaseline":"middle"}},
       "color":{"field":"cells","type":"nominal","sort":["WT-Cs","CD47⁻ Cs"],"scale":{"domain":["WT-Cs","CD47⁻ Cs"],"range":["#4A7EC6","#C0504D"]},"legend":{"orient":"none","legendX":-27,"legendY":243,"direction":"horizontal","title":null,"symbolType":"square","symbolSize":100,"symbolStrokeWidth":0,"labelFontSize":15,"columnPadding":5,"labelOffset":4}}}},
     {"mark":{"type":"errorbar","color":"#404040","ticks":{"size":6}},"encoding":{"x":{"field":"treat","type":"nominal","sort":["UT","LMB","TSP1"],"scale":{"paddingInner":0.23,"paddingOuter":0.115},"axis":null},"xOffset":{"field":"cells","type":"nominal","sort":["WT-Cs","CD47⁻ Cs"],"scale":{"paddingInner":0.08}},"y":{"field":"value","type":"quantitative","scale":{"domain":[-0.61,2.579],"nice":false,"zero":false},"axis":null},"yError":{"field":"err"}}}
    ]},
   {"data":{"values":[{"treat":"UT"},{"treat":"LMB"},{"treat":"TSP1"}]},"mark":{"type":"text","font":"Lato","fontSize":12,"color":"#222"},"encoding":{"x":{"field":"treat","type":"nominal","sort":["UT","LMB","TSP1"],"scale":{"paddingInner":0.23,"paddingOuter":0.115},"axis":null},"y":{"datum":-0.237,"type":"quantitative","scale":{"domain":[-0.61,2.579],"nice":false,"zero":false},"axis":null},"text":{"field":"treat"}}},
   {"data":{"values":[{"t":"miR-320a-3p"}]},"mark":{"type":"text","font":"Lato","fontSize":12,"color":"#222"},"encoding":{"x":{"datum":2,"type":"quantitative","scale":{"domain":[0.5,3.5],"nice":false,"zero":false},"axis":null},"y":{"datum":-0.52,"type":"quantitative","scale":{"domain":[-0.61,2.579],"nice":false,"zero":false},"axis":null},"text":{"field":"t"}}},
   {"data":{"values":[{}]},"mark":{"type":"rule","color":"#000"},"encoding":{"y":{"datum":0,"type":"quantitative","scale":{"domain":[-0.61,2.579],"nice":false,"zero":false},"axis":null}}},
   {"data":{"values":[{}]},"mark":{"type":"rule","color":"#000"},"encoding":{"x":{"datum":0.5,"type":"quantitative","scale":{"domain":[0.5,3.5],"nice":false,"zero":false},"axis":null},"y":{"datum":-0.61,"type":"quantitative","scale":{"domain":[-0.61,2.579],"nice":false,"zero":false},"axis":null},"y2":{"datum":2.5}}},
   {"data":{"values":[{}]},"mark":{"type":"rule","color":"#000"},"encoding":{"x":{"datum":3.5,"type":"quantitative","scale":{"domain":[0.5,3.5],"nice":false,"zero":false},"axis":null},"y":{"datum":-0.61,"type":"quantitative","scale":{"domain":[-0.61,2.579],"nice":false,"zero":false},"axis":null},"y2":{"datum":0}}},
   {"data":{"values":[{}]},"mark":{"type":"rule","color":"#222"},"encoding":{"x":{"datum":1.51,"type":"quantitative","scale":{"domain":[0.5,3.5],"nice":false,"zero":false},"axis":null},"x2":{"datum":2.2},"y":{"datum":2.12,"type":"quantitative","scale":{"domain":[-0.61,2.579],"nice":false,"zero":false},"axis":null}}},
   {"data":{"values":[{"t":"*"}]},"mark":{"type":"text","fontSize":11,"baseline":"alphabetic","color":"#222"},"encoding":{"x":{"datum":1.86,"type":"quantitative","scale":{"domain":[0.5,3.5],"nice":false,"zero":false},"axis":null},"y":{"datum":2.12,"type":"quantitative","scale":{"domain":[-0.61,2.579],"nice":false,"zero":false},"axis":null},"text":{"field":"t"}}},
   {"data":{"values":[{}]},"mark":{"type":"rule","color":"#222"},"encoding":{"x":{"datum":2.09,"type":"quantitative","scale":{"domain":[0.5,3.5],"nice":false,"zero":false},"axis":null},"x2":{"datum":3.36},"y":{"datum":2.355,"type":"quantitative","scale":{"domain":[-0.61,2.579],"nice":false,"zero":false},"axis":null}}},
   {"data":{"values":[{}]},"mark":{"type":"rule","color":"#222"},"encoding":{"x":{"datum":2.09,"type":"quantitative","scale":{"domain":[0.5,3.5],"nice":false,"zero":false},"axis":null},"y":{"datum":2.355,"type":"quantitative","scale":{"domain":[-0.61,2.579],"nice":false,"zero":false},"axis":null},"y2":{"datum":2.2}}},
   {"data":{"values":[{}]},"mark":{"type":"rule","color":"#222"},"encoding":{"x":{"datum":3.36,"type":"quantitative","scale":{"domain":[0.5,3.5],"nice":false,"zero":false},"axis":null},"y":{"datum":2.355,"type":"quantitative","scale":{"domain":[-0.61,2.579],"nice":false,"zero":false},"axis":null},"y2":{"datum":2.13}}},
   {"data":{"values":[{"t":"ns"}]},"mark":{"type":"text","fontSize":9.5,"color":"#555"},"encoding":{"x":{"datum":3.07,"type":"quantitative","scale":{"domain":[0.5,3.5],"nice":false,"zero":false},"axis":null},"y":{"datum":0.92,"type":"quantitative","scale":{"domain":[-0.61,2.579],"nice":false,"zero":false},"axis":null},"text":{"field":"t"}}}
  ]},
 {"width":55,"height":1,"data":{"values":[{}]},"mark":{"type":"point","opacity":0},"encoding":{}},
 {"width":114,"height":237,"title":{"text":"H","offset":12,"dx":-35},
  "resolve":{"scale":{"x":"independent"},"axis":{"y":"independent"}},
  "layer":[
   {"resolve":{"axis":{"y":"independent"}},
    "data":{"values":[
     {"treat":"UT","cells":"WT-EVs","value":1.0,"err":0.15},{"treat":"UT","cells":"CD47⁻ EVs","value":5.35,"err":0.1},
     {"treat":"LMB","cells":"WT-EVs","value":4.5,"err":0.22},{"treat":"LMB","cells":"CD47⁻ EVs","value":5.2,"err":0.12},
     {"treat":"TSP1","cells":"WT-EVs","value":5.75,"err":0.08},{"treat":"TSP1","cells":"CD47⁻ EVs","value":7.1,"err":0.2}]},
    "layer":[
     {"mark":{"type":"bar"},"encoding":{"x":{"field":"treat","type":"nominal","sort":["UT","LMB","TSP1"],"scale":{"paddingInner":0.18,"paddingOuter":0.09},"axis":null},"xOffset":{"field":"cells","type":"nominal","sort":["WT-EVs","CD47⁻ EVs"],"scale":{"paddingInner":0.1}},
       "y":{"field":"value","type":"quantitative","scale":{"domain":[-1.88,8.257],"nice":false,"zero":false},"axis":{"values":[0,2,4,6,8],"domain":false,"ticks":false,"labelPadding":12,"labelFontSize":13,"title":"Relative miRNA Expression","titleFontSize":13.2,"titleX":-30,"titleY":101,"titleBaseline":"middle"}},
       "color":{"field":"cells","type":"nominal","sort":["WT-EVs","CD47⁻ EVs"],"scale":{"domain":["WT-EVs","CD47⁻ EVs"],"range":["#4A7EC6","#C0504D"]},"legend":{"orient":"none","legendX":-4,"legendY":244,"direction":"horizontal","title":null,"symbolType":"square","symbolSize":100,"symbolStrokeWidth":0,"labelFontSize":14.5,"columnPadding":5,"labelOffset":4}}}},
     {"mark":{"type":"errorbar","color":"#404040","ticks":{"size":6}},"encoding":{"x":{"field":"treat","type":"nominal","sort":["UT","LMB","TSP1"],"scale":{"paddingInner":0.18,"paddingOuter":0.09},"axis":null},"xOffset":{"field":"cells","type":"nominal","sort":["WT-EVs","CD47⁻ EVs"],"scale":{"paddingInner":0.1}},"y":{"field":"value","type":"quantitative","scale":{"domain":[-1.88,8.257],"nice":false,"zero":false},"axis":null},"yError":{"field":"err"}}}
    ]},
   {"data":{"values":[{"treat":"UT"},{"treat":"LMB"},{"treat":"TSP1"}]},"mark":{"type":"text","font":"Lato","fontSize":12,"color":"#222"},"encoding":{"x":{"field":"treat","type":"nominal","sort":["UT","LMB","TSP1"],"scale":{"paddingInner":0.18,"paddingOuter":0.09},"axis":null},"y":{"datum":-0.68,"type":"quantitative","scale":{"domain":[-1.88,8.257],"nice":false,"zero":false},"axis":null},"text":{"field":"treat"}}},
   {"data":{"values":[{"t":"miR-320a -3p"}]},"mark":{"type":"text","font":"Lato","fontSize":12,"color":"#222"},"encoding":{"x":{"datum":2,"type":"quantitative","scale":{"domain":[0.5,3.5],"nice":false,"zero":false},"axis":null},"y":{"datum":-1.33,"type":"quantitative","scale":{"domain":[-1.88,8.257],"nice":false,"zero":false},"axis":null},"text":{"field":"t"}}},
   {"data":{"values":[{}]},"mark":{"type":"rule","color":"#000"},"encoding":{"y":{"datum":0,"type":"quantitative","scale":{"domain":[-1.88,8.257],"nice":false,"zero":false},"axis":null}}},
   {"data":{"values":[{}]},"mark":{"type":"rule","color":"#000"},"encoding":{"x":{"datum":0.5,"type":"quantitative","scale":{"domain":[0.5,3.5],"nice":false,"zero":false},"axis":null},"y":{"datum":-1.88,"type":"quantitative","scale":{"domain":[-1.88,8.257],"nice":false,"zero":false},"axis":null},"y2":{"datum":8}}},
   {"data":{"values":[{}]},"mark":{"type":"rule","color":"#000"},"encoding":{"x":{"datum":3.5,"type":"quantitative","scale":{"domain":[0.5,3.5],"nice":false,"zero":false},"axis":null},"y":{"datum":-1.88,"type":"quantitative","scale":{"domain":[-1.88,8.257],"nice":false,"zero":false},"axis":null},"y2":{"datum":0}}},
   {"data":{"values":[{}]},"mark":{"type":"rule","color":"#222"},"encoding":{"x":{"datum":1.105,"type":"quantitative","scale":{"domain":[0.5,3.5],"nice":false,"zero":false},"axis":null},"x2":{"datum":3.29},"y":{"datum":7.14,"type":"quantitative","scale":{"domain":[-1.88,8.257],"nice":false,"zero":false},"axis":null}}},
   {"data":{"values":[{"t":"ns"}]},"mark":{"type":"text","fontSize":9.5,"color":"#555"},"encoding":{"x":{"datum":2.34,"type":"quantitative","scale":{"domain":[0.5,3.5],"nice":false,"zero":false},"axis":null},"y":{"datum":7.44,"type":"quantitative","scale":{"domain":[-1.88,8.257],"nice":false,"zero":false},"axis":null},"text":{"field":"t"}}},
   {"data":{"values":[{}]},"mark":{"type":"rule","color":"#222"},"encoding":{"x":{"datum":0.71,"type":"quantitative","scale":{"domain":[0.5,3.5],"nice":false,"zero":false},"axis":null},"x2":{"datum":2.76},"y":{"datum":6.25,"type":"quantitative","scale":{"domain":[-1.88,8.257],"nice":false,"zero":false},"axis":null}}},
   {"data":{"values":[{"t":"***"}]},"mark":{"type":"text","fontSize":11,"baseline":"alphabetic","color":"#222"},"encoding":{"x":{"datum":2.29,"type":"quantitative","scale":{"domain":[0.5,3.5],"nice":false,"zero":false},"axis":null},"y":{"datum":6.25,"type":"quantitative","scale":{"domain":[-1.88,8.257],"nice":false,"zero":false},"axis":null},"text":{"field":"t"}}},
   {"data":{"values":[{}]},"mark":{"type":"rule","color":"#222"},"encoding":{"x":{"datum":0.605,"type":"quantitative","scale":{"domain":[0.5,3.5],"nice":false,"zero":false},"axis":null},"x2":{"datum":1.42},"y":{"datum":5.69,"type":"quantitative","scale":{"domain":[-1.88,8.257],"nice":false,"zero":false},"axis":null}}},
   {"data":{"values":[{"t":"***"}]},"mark":{"type":"text","fontSize":11,"baseline":"alphabetic","color":"#222"},"encoding":{"x":{"datum":0.92,"type":"quantitative","scale":{"domain":[0.5,3.5],"nice":false,"zero":false},"axis":null},"y":{"datum":5.69,"type":"quantitative","scale":{"domain":[-1.88,8.257],"nice":false,"zero":false},"axis":null},"text":{"field":"t"}}},
   {"data":{"values":[{}]},"mark":{"type":"rule","color":"#222"},"encoding":{"x":{"datum":0.71,"type":"quantitative","scale":{"domain":[0.5,3.5],"nice":false,"zero":false},"axis":null},"x2":{"datum":1.82},"y":{"datum":5.05,"type":"quantitative","scale":{"domain":[-1.88,8.257],"nice":false,"zero":false},"axis":null}}},
   {"data":{"values":[{}]},"mark":{"type":"rule","color":"#222"},"encoding":{"x":{"datum":0.71,"type":"quantitative","scale":{"domain":[0.5,3.5],"nice":false,"zero":false},"axis":null},"y":{"datum":5.05,"type":"quantitative","scale":{"domain":[-1.88,8.257],"nice":false,"zero":false},"axis":null},"y2":{"datum":1.24}}},
   {"data":{"values":[{}]},"mark":{"type":"rule","color":"#222"},"encoding":{"x":{"datum":1.82,"type":"quantitative","scale":{"domain":[0.5,3.5],"nice":false,"zero":false},"axis":null},"y":{"datum":5.05,"type":"quantitative","scale":{"domain":[-1.88,8.257],"nice":false,"zero":false},"axis":null},"y2":{"datum":4.93}}}
  ]},
 {"width":77,"height":1,"data":{"values":[{}]},"mark":{"type":"point","opacity":0},"encoding":{}},
 {"width":104,"height":241.7,"title":{"text":"I","offset":13,"dx":-51},
  "resolve":{"scale":{"x":"independent"},"axis":{"y":"independent"}},
  "layer":[
   {"resolve":{"axis":{"y":"independent"}},
    "data":{"values":[
     {"treat":"UT","cells":"WT-Cs","value":1.0,"err":0.09},{"treat":"UT","cells":"CD47⁻ Cs","value":0.44,"err":0.1},
     {"treat":"LMB","cells":"WT-Cs","value":0.74,"err":0.04},{"treat":"LMB","cells":"CD47⁻ Cs","value":0.45,"err":0.13},
     {"treat":"TSP1","cells":"WT-Cs","value":1.22,"err":0.12},{"treat":"TSP1","cells":"CD47⁻ Cs","value":0.22,"err":0.14}]},
    "layer":[
     {"mark":{"type":"bar"},"encoding":{"x":{"field":"treat","type":"nominal","sort":["UT","LMB","TSP1"],"scale":{"paddingInner":0.2,"paddingOuter":0.1},"axis":null},"xOffset":{"field":"cells","type":"nominal","sort":["WT-Cs","CD47⁻ Cs"],"scale":{"paddingInner":0.06}},
       "y":{"field":"value","type":"quantitative","scale":{"domain":[-0.39,1.634],"nice":false,"zero":false},"axis":{"values":[0,0.4,0.8,1.2,1.6],"format":"~g","domain":false,"ticks":false,"labelPadding":11,"labelFontSize":13,"title":"Relative miRNA Expression","titleFontSize":13.2,"titleX":-41,"titleY":109,"titleBaseline":"middle"}},
       "color":{"field":"cells","type":"nominal","sort":["WT-Cs","CD47⁻ Cs"],"scale":{"domain":["WT-Cs","CD47⁻ Cs"],"range":["#4A7EC6","#C0504D"]},"legend":{"orient":"none","legendX":-5,"legendY":244,"direction":"horizontal","title":null,"symbolType":"square","symbolSize":100,"symbolStrokeWidth":0,"labelFontSize":15,"columnPadding":5,"labelOffset":4}}}},
     {"mark":{"type":"errorbar","color":"#404040","ticks":{"size":6}},"encoding":{"x":{"field":"treat","type":"nominal","sort":["UT","LMB","TSP1"],"scale":{"paddingInner":0.2,"paddingOuter":0.1},"axis":null},"xOffset":{"field":"cells","type":"nominal","sort":["WT-Cs","CD47⁻ Cs"],"scale":{"paddingInner":0.06}},"y":{"field":"value","type":"quantitative","scale":{"domain":[-0.39,1.634],"nice":false,"zero":false},"axis":null},"yError":{"field":"err"}}}
    ]},
   {"data":{"values":[{"treat":"UT"},{"treat":"LMB"},{"treat":"TSP1"}]},"mark":{"type":"text","font":"Lato","fontSize":12,"color":"#222"},"encoding":{"x":{"field":"treat","type":"nominal","sort":["UT","LMB","TSP1"],"scale":{"paddingInner":0.2,"paddingOuter":0.1},"axis":null},"y":{"datum":-0.16,"type":"quantitative","scale":{"domain":[-0.39,1.634],"nice":false,"zero":false},"axis":null},"text":{"field":"treat"}}},
   {"data":{"values":[{"t":"Pre_320a"}]},"mark":{"type":"text","font":"Lato","fontSize":12,"color":"#222"},"encoding":{"x":{"datum":2,"type":"quantitative","scale":{"domain":[0.5,3.5],"nice":false,"zero":false},"axis":null},"y":{"datum":-0.3,"type":"quantitative","scale":{"domain":[-0.39,1.634],"nice":false,"zero":false},"axis":null},"text":{"field":"t"}}},
   {"data":{"values":[{}]},"mark":{"type":"rule","color":"#000"},"encoding":{"y":{"datum":0,"type":"quantitative","scale":{"domain":[-0.39,1.634],"nice":false,"zero":false},"axis":null}}},
   {"data":{"values":[{}]},"mark":{"type":"rule","color":"#000"},"encoding":{"x":{"datum":0.5,"type":"quantitative","scale":{"domain":[0.5,3.5],"nice":false,"zero":false},"axis":null},"y":{"datum":-0.39,"type":"quantitative","scale":{"domain":[-0.39,1.634],"nice":false,"zero":false},"axis":null},"y2":{"datum":1.6}}},
   {"data":{"values":[{}]},"mark":{"type":"rule","color":"#000"},"encoding":{"x":{"datum":3.5,"type":"quantitative","scale":{"domain":[0.5,3.5],"nice":false,"zero":false},"axis":null},"y":{"datum":-0.39,"type":"quantitative","scale":{"domain":[-0.39,1.634],"nice":false,"zero":false},"axis":null},"y2":{"datum":0}}},
   {"data":{"values":[{}]},"mark":{"type":"rule","color":"#222"},"encoding":{"x":{"datum":0.7,"type":"quantitative","scale":{"domain":[0.5,3.5],"nice":false,"zero":false},"axis":null},"x2":{"datum":1.16},"y":{"datum":1.19,"type":"quantitative","scale":{"domain":[-0.39,1.634],"nice":false,"zero":false},"axis":null}}},
   {"data":{"values":[{"t":"*"}]},"mark":{"type":"text","fontSize":11,"baseline":"alphabetic","color":"#222"},"encoding":{"x":{"datum":0.93,"type":"quantitative","scale":{"domain":[0.5,3.5],"nice":false,"zero":false},"axis":null},"y":{"datum":1.19,"type":"quantitative","scale":{"domain":[-0.39,1.634],"nice":false,"zero":false},"axis":null},"text":{"field":"t"}}},
   {"data":{"values":[{}]},"mark":{"type":"rule","color":"#222"},"encoding":{"x":{"datum":1.48,"type":"quantitative","scale":{"domain":[0.5,3.5],"nice":false,"zero":false},"axis":null},"x2":{"datum":2.14},"y":{"datum":0.84,"type":"quantitative","scale":{"domain":[-0.39,1.634],"nice":false,"zero":false},"axis":null}}},
   {"data":{"values":[{"t":"*"}]},"mark":{"type":"text","fontSize":11,"baseline":"alphabetic","color":"#222"},"encoding":{"x":{"datum":1.86,"type":"quantitative","scale":{"domain":[0.5,3.5],"nice":false,"zero":false},"axis":null},"y":{"datum":0.84,"type":"quantitative","scale":{"domain":[-0.39,1.634],"nice":false,"zero":false},"axis":null},"text":{"field":"t"}}},
   {"data":{"values":[{}]},"mark":{"type":"rule","color":"#222"},"encoding":{"x":{"datum":2.49,"type":"quantitative","scale":{"domain":[0.5,3.5],"nice":false,"zero":false},"axis":null},"x2":{"datum":3.21},"y":{"datum":1.415,"type":"quantitative","scale":{"domain":[-0.39,1.634],"nice":false,"zero":false},"axis":null}}},
   {"data":{"values":[{"t":"***"}]},"mark":{"type":"text","fontSize":11,"baseline":"alphabetic","color":"#222"},"encoding":{"x":{"datum":2.87,"type":"quantitative","scale":{"domain":[0.5,3.5],"nice":false,"zero":false},"axis":null},"y":{"datum":1.415,"type":"quantitative","scale":{"domain":[-0.39,1.634],"nice":false,"zero":false},"axis":null},"text":{"field":"t"}}},
   {"data":{"values":[{}]},"mark":{"type":"rule","color":"#222"},"encoding":{"x":{"datum":2.14,"type":"quantitative","scale":{"domain":[0.5,3.5],"nice":false,"zero":false},"axis":null},"x2":{"datum":3.36},"y":{"datum":0.427,"type":"quantitative","scale":{"domain":[-0.39,1.634],"nice":false,"zero":false},"axis":null}}},
   {"data":{"values":[{"t":"ns"}]},"mark":{"type":"text","fontSize":9.5,"color":"#555"},"encoding":{"x":{"datum":3.07,"type":"quantitative","scale":{"domain":[0.5,3.5],"nice":false,"zero":false},"axis":null},"y":{"datum":0.477,"type":"quantitative","scale":{"domain":[-0.39,1.634],"nice":false,"zero":false},"axis":null},"text":{"field":"t"}}}
  ]},
 {"width":60,"height":1,"data":{"values":[{}]},"mark":{"type":"point","opacity":0},"encoding":{}},
 {"width":118,"height":236.9,"title":{"text":"J","offset":7,"dx":-47},
  "resolve":{"scale":{"x":"independent"},"axis":{"y":"independent"}},
  "layer":[
   {"resolve":{"axis":{"y":"independent"}},
    "data":{"values":[
     {"treat":"UT","cells":"WT-EVs","value":1.0,"err":0.06},{"treat":"UT","cells":"CD47⁻ EVs","value":5.82,"err":0.08},
     {"treat":"LMB","cells":"WT-EVs","value":3.0,"err":0.18},{"treat":"LMB","cells":"CD47⁻ EVs","value":5.87,"err":0.1},
     {"treat":"TSP1","cells":"WT-EVs","value":3.7,"err":0.13},{"treat":"TSP1","cells":"CD47⁻ EVs","value":3.7,"err":0.08}]},
    "layer":[
     {"mark":{"type":"bar"},"encoding":{"x":{"field":"treat","type":"nominal","sort":["UT","LMB","TSP1"],"scale":{"paddingInner":0.12,"paddingOuter":0.06},"axis":null},"xOffset":{"field":"cells","type":"nominal","sort":["WT-EVs","CD47⁻ EVs"],"scale":{"paddingInner":0.05}},
       "y":{"field":"value","type":"quantitative","scale":{"domain":[-1.83,8],"nice":false,"zero":false},"axis":{"values":[0,2,4,6,8],"domain":false,"ticks":false,"labelPadding":17,"labelFontSize":13,"title":"Relative miRNA Expression","titleFontSize":13.2,"titleX":-34,"titleY":109,"titleBaseline":"middle"}},
       "color":{"field":"cells","type":"nominal","sort":["WT-EVs","CD47⁻ EVs"],"scale":{"domain":["WT-EVs","CD47⁻ EVs"],"range":["#4A7EC6","#C0504D"]},"legend":{"orient":"none","legendX":-16,"legendY":241.5,"direction":"horizontal","title":null,"symbolType":"square","symbolSize":90,"symbolStrokeWidth":0,"labelFontSize":13.5,"columnPadding":4,"labelOffset":4}}}},
     {"mark":{"type":"errorbar","color":"#404040","ticks":{"size":6}},"encoding":{"x":{"field":"treat","type":"nominal","sort":["UT","LMB","TSP1"],"scale":{"paddingInner":0.12,"paddingOuter":0.06},"axis":null},"xOffset":{"field":"cells","type":"nominal","sort":["WT-EVs","CD47⁻ EVs"],"scale":{"paddingInner":0.05}},"y":{"field":"value","type":"quantitative","scale":{"domain":[-1.83,8],"nice":false,"zero":false},"axis":null},"yError":{"field":"err"}}}
    ]},
   {"data":{"values":[{"treat":"UT"},{"treat":"LMB"},{"treat":"TSP1"}]},"mark":{"type":"text","font":"Lato","fontSize":12,"color":"#222"},"encoding":{"x":{"field":"treat","type":"nominal","sort":["UT","LMB","TSP1"],"scale":{"paddingInner":0.12,"paddingOuter":0.06},"axis":null},"y":{"datum":-0.66,"type":"quantitative","scale":{"domain":[-1.83,8],"nice":false,"zero":false},"axis":null},"text":{"field":"treat"}}},
   {"data":{"values":[{"t":"Pre_miR-320a"}]},"mark":{"type":"text","font":"Lato","fontSize":12,"color":"#222"},"encoding":{"x":{"datum":2,"type":"quantitative","scale":{"domain":[0.5,3.5],"nice":false,"zero":false},"axis":null},"y":{"datum":-1.42,"type":"quantitative","scale":{"domain":[-1.83,8],"nice":false,"zero":false},"axis":null},"text":{"field":"t"}}},
   {"data":{"values":[{}]},"mark":{"type":"rule","color":"#000"},"encoding":{"y":{"datum":0,"type":"quantitative","scale":{"domain":[-1.83,8],"nice":false,"zero":false},"axis":null}}},
   {"data":{"values":[{}]},"mark":{"type":"rule","color":"#000"},"encoding":{"x":{"datum":0.5,"type":"quantitative","scale":{"domain":[0.5,3.5],"nice":false,"zero":false},"axis":null},"y":{"datum":-1.83,"type":"quantitative","scale":{"domain":[-1.83,8],"nice":false,"zero":false},"axis":null},"y2":{"datum":8}}},
   {"data":{"values":[{}]},"mark":{"type":"rule","color":"#000"},"encoding":{"x":{"datum":3.5,"type":"quantitative","scale":{"domain":[0.5,3.5],"nice":false,"zero":false},"axis":null},"y":{"datum":-1.83,"type":"quantitative","scale":{"domain":[-1.83,8],"nice":false,"zero":false},"axis":null},"y2":{"datum":0}}},
   {"data":{"values":[{}]},"mark":{"type":"rule","color":"#222"},"encoding":{"x":{"datum":0.525,"type":"quantitative","scale":{"domain":[0.5,3.5],"nice":false,"zero":false},"axis":null},"x2":{"datum":1.16},"y":{"datum":6.93,"type":"quantitative","scale":{"domain":[-1.83,8],"nice":false,"zero":false},"axis":null}}},
   {"data":{"values":[{"t":"***"}]},"mark":{"type":"text","fontSize":11,"baseline":"alphabetic","color":"#222"},"encoding":{"x":{"datum":0.83,"type":"quantitative","scale":{"domain":[0.5,3.5],"nice":false,"zero":false},"axis":null},"y":{"datum":6.93,"type":"quantitative","scale":{"domain":[-1.83,8],"nice":false,"zero":false},"axis":null},"text":{"field":"t"}}},
   {"data":{"values":[{}]},"mark":{"type":"rule","color":"#222"},"encoding":{"x":{"datum":0.7,"type":"quantitative","scale":{"domain":[0.5,3.5],"nice":false,"zero":false},"axis":null},"x2":{"datum":2.69},"y":{"datum":4.9,"type":"quantitative","scale":{"domain":[-1.83,8],"nice":false,"zero":false},"axis":null}}},
   {"data":{"values":[{"t":"***"}]},"mark":{"type":"text","fontSize":11,"baseline":"alphabetic","color":"#222"},"encoding":{"x":{"datum":2.23,"type":"quantitative","scale":{"domain":[0.5,3.5],"nice":false,"zero":false},"axis":null},"y":{"datum":4.9,"type":"quantitative","scale":{"domain":[-1.83,8],"nice":false,"zero":false},"axis":null},"text":{"field":"t"}}},
   {"data":{"values":[{}]},"mark":{"type":"rule","color":"#222"},"encoding":{"x":{"datum":0.65,"type":"quantitative","scale":{"domain":[0.5,3.5],"nice":false,"zero":false},"axis":null},"x2":{"datum":1.67},"y":{"datum":4.19,"type":"quantitative","scale":{"domain":[-1.83,8],"nice":false,"zero":false},"axis":null}}},
   {"data":{"values":[{}]},"mark":{"type":"rule","color":"#222"},"encoding":{"x":{"datum":0.65,"type":"quantitative","scale":{"domain":[0.5,3.5],"nice":false,"zero":false},"axis":null},"y":{"datum":4.19,"type":"quantitative","scale":{"domain":[-1.83,8],"nice":false,"zero":false},"axis":null},"y2":{"datum":1.41}}},
   {"data":{"values":[{"t":"***"}]},"mark":{"type":"text","fontSize":11,"baseline":"alphabetic","color":"#222"},"encoding":{"x":{"datum":1.2,"type":"quantitative","scale":{"domain":[0.5,3.5],"nice":false,"zero":false},"axis":null},"y":{"datum":4.19,"type":"quantitative","scale":{"domain":[-1.83,8],"nice":false,"zero":false},"axis":null},"text":{"field":"t"}}}
  ]}
],"spacing":0,"bounds":"flush","resolve":{"scale":{"color":"independent","xOffset":"independent"},"legend":{"color":"independent"}}}
]
}
